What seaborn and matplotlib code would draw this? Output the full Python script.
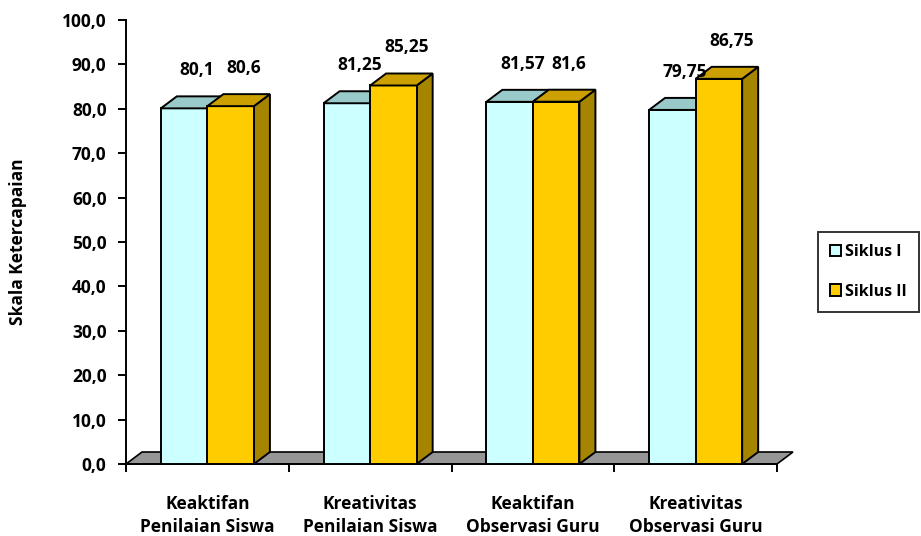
import matplotlib
matplotlib.use("Agg")
import matplotlib.pyplot as plt
from matplotlib.patches import Polygon, Patch
import seaborn as sns
import pandas as pd

# Data
categories = ["Keaktifan\nPenilaian Siswa", "Kreativitas\nPenilaian Siswa",
              "Keaktifan\nObservasi Guru", "Kreativitas\nObservasi Guru"]
series_names = ["Siklus I", "Siklus II"]
siklus_1 = [80.1, 81.25, 81.57, 79.75]
siklus_2 = [80.6, 85.25, 81.6, 86.75]
y_ticks = [0, 10, 20, 30, 40, 50, 60, 70, 80, 90, 100]

df = pd.DataFrame({
    "Kategori": categories * 2,
    "Nilai": siklus_1 + siklus_2,
    "Siklus": [series_names[0]] * 4 + [series_names[1]] * 4,
})

sns.set_style("white")
plt.rcParams["font.family"] = ["Open Sans", "DejaVu Sans"]
plt.rcParams["font.weight"] = "bold"
plt.rcParams["text.color"] = "black"
FS = 12.5

front = {"Siklus I": "#CCFFFF", "Siklus II": "#FFCC00"}
top = {"Siklus I": "#99C9C9", "Siklus II": "#CCA000"}
side = {"Siklus I": "#7FB0B0", "Siklus II": "#A58400"}

W, H = 921, 536
fig = plt.figure(figsize=(W / 100, H / 100), dpi=100)
ax_l, ax_b, ax_w, ax_h = 126, 72, 651, 444
ax = fig.add_axes([ax_l / W, ax_b / H, ax_w / W, ax_h / H])

sns.barplot(data=df, x="Kategori", y="Nilai", hue="Siklus",
            palette=[front[s] for s in series_names], saturation=1,
            width=0.572, gap=0, edgecolor="black", linewidth=1.4,
            legend=False, ax=ax, zorder=3)

ax.set_xlim(-0.5, 3.5)
ax.set_ylim(0, 100)

# depth of the 3D extrusion, in data units
px_x = 4 / ax_w
px_y = 100 / ax_h
dx = 16 * px_x
dy = 12 * px_y

# floor
floor = Polygon([(-0.5, 0), (3.5, 0), (3.5 + dx, dy), (-0.5 + dx, dy)],
                closed=True, facecolor="#969696", edgecolor="black",
                linewidth=1.2, zorder=1, clip_on=False)
ax.add_patch(floor)

bars = [p for p in ax.patches if p is not floor]
for i, p in enumerate(bars):
    s = series_names[i // 4]
    x0, w, h = p.get_x(), p.get_width(), p.get_height()
    z = 3 + (i // 4) * 3
    p.set_zorder(z)
    side_poly = Polygon([(x0 + w, 0), (x0 + w, h), (x0 + w + dx, h + dy), (x0 + w + dx, dy)],
                        closed=True, facecolor=side[s], edgecolor="black",
                        linewidth=1.4, zorder=z - 1, clip_on=False)
    top_poly = Polygon([(x0, h), (x0 + w, h), (x0 + w + dx, h + dy), (x0 + dx, h + dy)],
                       closed=True, facecolor=top[s], edgecolor="black",
                       linewidth=1.4, zorder=z + 1, clip_on=False)
    ax.add_patch(side_poly)
    ax.add_patch(top_poly)
    label = f"{h:g}".replace(".", ",")
    ax.text(x0 + w / 2 + 0.8 * dx, h + dy + 26 * px_y, label, ha="center", va="center",
            fontsize=FS, fontweight="bold", color="black", zorder=10, clip_on=False)

# axes styling
for sp in ["top", "right"]:
    ax.spines[sp].set_visible(False)
for sp in ["left", "bottom"]:
    ax.spines[sp].set_color("black")
    ax.spines[sp].set_linewidth(1.4)
    ax.spines[sp].set_zorder(2)

ax.set_yticks(y_ticks)
ax.set_yticklabels([f"{v:.1f}".replace(".", ",") for v in y_ticks],
                   fontsize=FS, fontweight="bold", color="black")
ax.tick_params(axis="y", direction="out", length=6, width=1.4, color="black", pad=8, left=True)

ax.set_xticks(range(len(categories)))
ax.set_xticklabels(categories, fontsize=FS, fontweight="bold", linespacing=1.4, color="black")
ax.tick_params(axis="x", which="major", length=0, pad=22)
ax.set_xticks([-0.5, 0.5, 1.5, 2.5, 3.5], minor=True)
ax.tick_params(axis="x", which="minor", direction="out", length=6, width=1.4,
               color="black", bottom=True)

ax.set_xlabel("")
ax.set_ylabel("")
fig.text(18 / W, 1 - 242 / H, "Skala Ketercapaian", rotation=90, ha="center",
         va="center", fontsize=FS, fontweight="bold", color="black")

handles = [Patch(facecolor=front[s], edgecolor="black", linewidth=1.4) for s in series_names]
leg = fig.legend(handles, series_names, loc="center right",
                 bbox_to_anchor=(919 / W, 1 - 272 / H), frameon=True, fancybox=False,
                 edgecolor="black", handlelength=0.7, handleheight=0.7,
                 handletextpad=0.25, labelspacing=1.45, borderpad=0.75,
                 borderaxespad=0, prop={"size": 11.5, "weight": "bold"})
leg.get_frame().set_linewidth(1.4)

fig.savefig("out.png", dpi=100, facecolor="white")
